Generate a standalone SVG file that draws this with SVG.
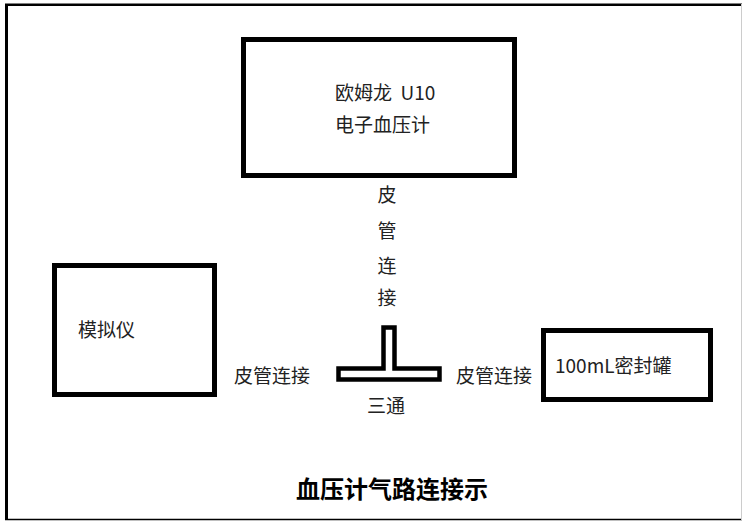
<svg xmlns="http://www.w3.org/2000/svg" width="742" height="521" viewBox="0 0 742 521">
<style>
.box{fill:#fff;stroke:#000;stroke-width:5}
.t{font-family:"Microsoft YaHei","Noto Sans CJK SC","Noto Sans",sans-serif;font-size:19px;fill:#222;white-space:pre}
.title{font-family:"Microsoft YaHei","Noto Sans CJK SC",sans-serif;font-size:24px;font-weight:bold;fill:#000}
</style>
<rect width="742" height="521" fill="#fff"/>
<g id="frame">
<line x1="6.5" y1="4" x2="6.5" y2="520" stroke="#000" stroke-width="3"/>
<line x1="5" y1="4.8" x2="742" y2="4.8" stroke="#000" stroke-width="2.5"/>
<line x1="5" y1="519.5" x2="742" y2="519.5" stroke="#000" stroke-width="1.5"/>
<line x1="741.5" y1="4" x2="741.5" y2="520" stroke="#ccc" stroke-width="1"/>
</g>
<g id="bp-monitor">
<rect class="box" x="243.5" y="39.5" width="271" height="136"/>
<text class="t" x="335" y="100" xml:space="preserve">欧姆龙  U10</text>
<text class="t" x="335" y="132">电子血压计</text>
</g>
<g id="simulator">
<rect class="box" x="54.5" y="265.5" width="160" height="129"/>
<text class="t" x="78" y="337">模拟仪</text>
</g>
<g id="canister">
<rect class="box" x="543.5" y="330.5" width="167" height="69"/>
<text class="t" x="555" y="373">100mL密封罐</text>
</g>
<g id="tee">
<path d="M383.5,327.5 H394.5 V368.5 H439.5 V379.5 H338.5 V368.5 H383.5 Z" fill="#fff" stroke="#000" stroke-width="4.5"/>
<text class="t" x="386" y="413" text-anchor="middle">三通</text>
</g>
<g id="connectors">
<text class="t" x="387" y="202" text-anchor="middle">皮</text>
<text class="t" x="387" y="238" text-anchor="middle">管</text>
<text class="t" x="387" y="273" text-anchor="middle">连</text>
<text class="t" x="387" y="305" text-anchor="middle">接</text>
<text class="t" x="234" y="383">皮管连接</text>
<text class="t" x="456" y="383">皮管连接</text>
</g>
<g id="caption">
<text class="title" x="296" y="498">血压计气路连接示</text>
</g>
</svg>
